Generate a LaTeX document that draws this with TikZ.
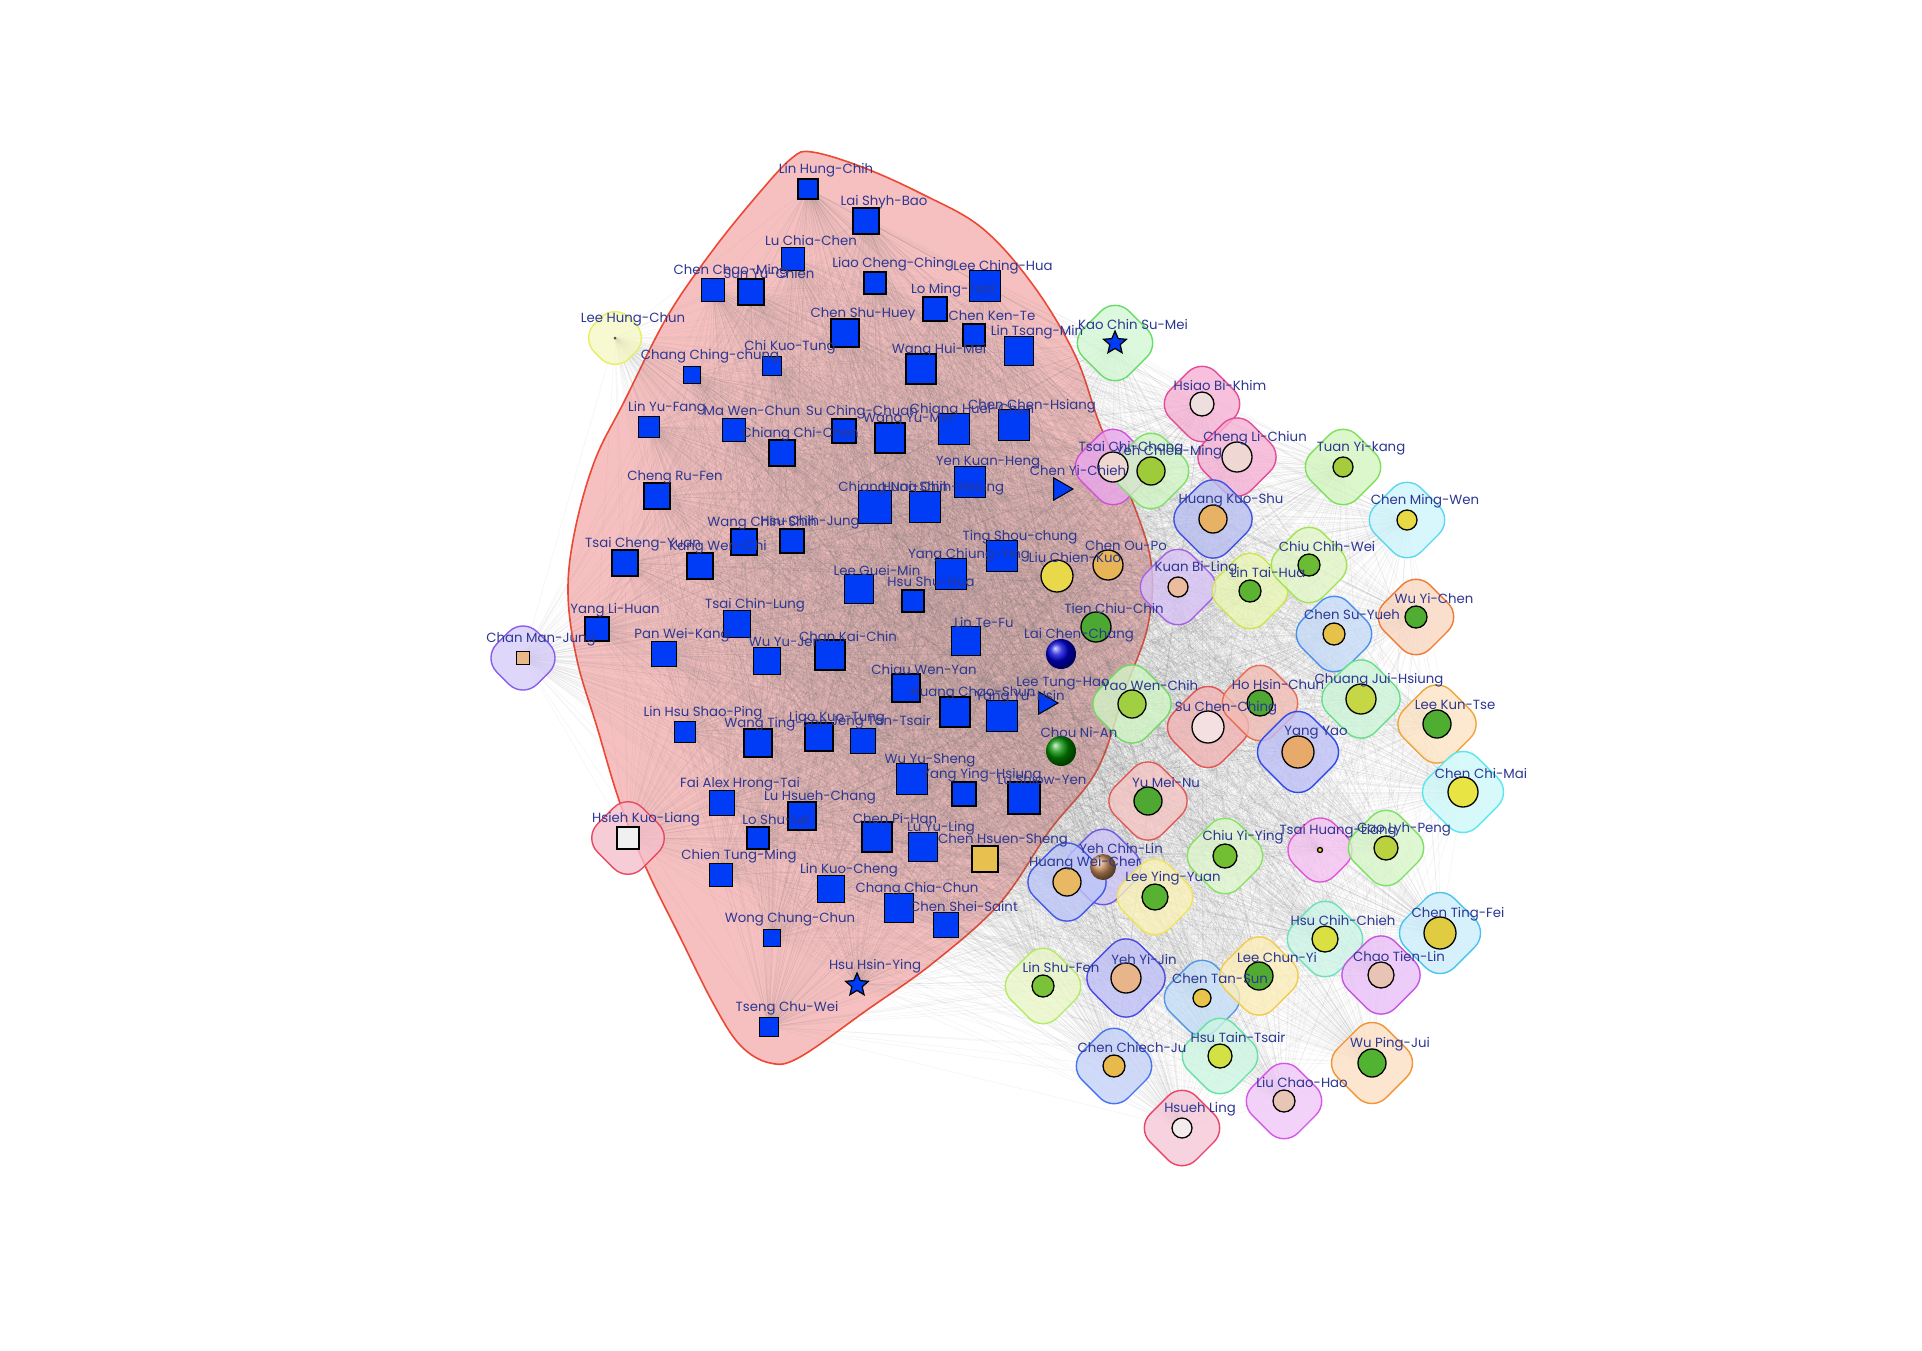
\documentclass[tikz,border=0pt]{standalone}
\usepackage{fontspec}
\setmainfont{Poppins}
\usetikzlibrary{shapes.geometric}
\pgfdeclarelayer{hull}\pgfdeclarelayer{edges}\pgfdeclarelayer{blobs}\pgfdeclarelayer{labels}
\pgfsetlayers{hull,edges,blobs,main,labels}
\definecolor{txt}{RGB}{45,55,145}
\definecolor{sqblue}{RGB}{0,60,245}
\definecolor{hullfill}{RGB}{246,192,192}
\definecolor{hulldraw}{RGB}{236,72,52}
\tikzset{
 sqn/.style={rectangle, draw=black, line width=1.3pt, fill=sqblue, inner sep=0pt},
 cin/.style={circle, draw=black, line width=1.3pt, inner sep=0pt},
 blobn/.style={rectangle, rotate=45, rounded corners=20pt, line width=1.4pt, fill opacity=0.78, inner sep=0pt},
 lbl/.style={text=txt, font=\fontsize{13.3}{13.3}\selectfont, inner sep=0pt},
 edgeline/.style={draw=black!55, line width=0.35pt, opacity=0.11},
 starn/.style={star, star points=5, star point ratio=2.2, draw=black, line width=1.2pt, fill=sqblue, minimum size=24, inner sep=0pt},
 trin/.style={regular polygon, regular polygon sides=3, shape border rotate=-90, fill=sqblue, draw=black, line width=1pt, minimum size=26, inner sep=0pt},
}
\newcommand\LB[2]{\begin{pgfonlayer}{labels}\node[lbl] (n#1-t) at ([shift={(18,-19)}]n#1.center) {#2};\end{pgfonlayer}}
\newcommand\SQ[5]{\node[sqn, minimum size=#4] (n#1) at (#2,#3) {}; \LB{#1}{#5}}
\newcommand\SQC[6]{\definecolor{tmpc}{HTML}{#5}\node[sqn, fill=tmpc, minimum size=#4] (n#1) at (#2,#3) {}; \LB{#1}{#6}}
\newcommand\CI[6]{\definecolor{tmpc}{HTML}{#5}\node[cin, fill=tmpc, minimum size=2*#4] (n#1) at (#2,#3) {}; \LB{#1}{#6}}
\newcommand\BL[4]{\definecolor{bf}{HTML}{#3}\definecolor{bd}{HTML}{#4}\begin{pgfonlayer}{blobs}\node[blobn, fill=bf, draw=bd, minimum size=#2+3] (n#1-b) at (n#1.center) {};\end{pgfonlayer}}
\begin{document}
\begin{tikzpicture}[x=1pt,y=-1pt]
\useasboundingbox (0,0) rectangle (1922,1350);
\begin{pgfonlayer}{hull}
\fill[white] (0,0) rectangle (1922,1350);
\draw[hulldraw, fill=hullfill, line width=1.6pt] plot[smooth cycle, tension=0.6] coordinates {
(812,152) (862,167) (922,194) (982,228) (1033,285) (1075,355) (1100,425) (1130,495) (1151,562) (1148,625) (1125,690) (1097,770) (1050,830) (1000,903) (933,963) (867,1010) (800,1057) (770,1063) (740,1045) (713,1003) (680,937) (647,870) (620,803) (597,727) (577,660) (568,593) (575,530) (595,460) (625,400) (667,317) (713,250) (760,192) (792,158)};
\end{pgfonlayer}
% squares
\SQ{1}{808}{189}{20}{Lin Hung-Chih}
\SQ{2}{866}{221}{26}{Lai Shyh-Bao}
\SQ{3}{793}{259}{23}{Lu Chia-Chen}
\SQ{4}{713}{290}{23}{Chen Chao-Ming}
\SQ{5}{751}{292}{26}{Sun Yu-Chien}
\SQ{6}{875}{283}{22}{Liao Cheng-Ching}
\SQ{7}{985}{286}{31}{Lee Ching-Hua}
\SQ{8}{935}{309}{24}{Lo Ming-Tsai}
\SQ{9}{845}{333}{28}{Chen Shu-Huey}
\SQ{10}{974}{335}{22}{Chen Ken-Te}
\SQ{11}{1019}{351}{29}{Lin Tsang-Min}
\SQ{12}{921}{369}{30}{Wang Hui-Mei}
\SQ{13}{692}{375}{17}{Chang Ching-chung}
\SQ{14}{772}{366}{19}{Chi Kuo-Tung}
\SQ{15}{649}{427}{21}{Lin Yu-Fang}
\SQ{16}{734}{430}{23}{Ma Wen-Chun}
\SQ{17}{844}{431}{24}{Su Ching-Chuan}
\SQ{18}{890}{438}{30}{Wang Yu-Min}
\SQ{19}{954}{429}{31}{Chiang Huei-Chen}
\SQ{20}{1014}{425}{31}{Chen Chen-Hsiang}
\SQ{21}{782}{453}{26}{Chiang Chi-Chen}
\SQ{22}{970}{482}{31}{Yen Kuan-Heng}
\SQ{23}{657}{496}{26}{Cheng Ru-Fen}
\SQ{24}{875}{507}{33}{Chiang Nai-Shin}
\SQ{25}{925}{507}{31}{Hung Chih-Hsiung}
\SQ{26}{744}{542}{26}{Wang Chin-Shih}
\SQ{27}{792}{541}{24}{Hsu Chih-Jung}
\SQ{28}{625}{563}{26}{Tsai Cheng-Yuan}
\SQ{29}{700}{566}{26}{Kang Wen-Chi}
\SQ{30}{1002}{556}{31}{Ting Shou-chung}
\SQ{31}{951}{574}{31}{Yang Chiung-Ying}
\SQ{32}{859}{589}{29}{Lee Guei-Min}
\SQ{33}{913}{601}{22}{Hsu Shu-Hua}
\SQ{34}{737}{624}{27}{Tsai Chin-Lung}
\SQ{35}{597}{629}{24}{Yang Li-Huan}
\SQ{36}{966}{641}{29}{Lin Te-Fu}
\SQ{37}{664}{654}{25}{Pan Wei-Kang}
\SQ{38}{767}{661}{27}{Wu Yu-Jen}
\SQ{39}{830}{655}{30}{Chan Kai-Chin}
\SQ{40}{906}{688}{28}{Chiau Wen-Yan}
\SQ{41}{955}{712}{30}{Huang Chao-Shun}
\SQ{42}{1002}{716}{31}{Yang Yu-Hsin}
\SQ{43}{685}{732}{21}{Lin Hsu Shao-Ping}
\SQ{44}{758}{743}{28}{Wang Ting-Son}
\SQ{45}{819}{737}{28}{Liao Kuo-Tung}
\SQ{46}{863}{741}{25}{Jeng Tan-Tsair}
\SQ{47}{912}{779}{31}{Wu Yu-Sheng}
\SQ{48}{964}{794}{24}{Yang Ying-Hsiung}
\SQ{49}{1024}{798}{32}{Lu Shiow-Yen}
\SQ{50}{722}{803}{25}{Fai Alex Hrong-Tai}
\SQ{51}{802}{816}{28}{Lu Hsueh-Chang}
\SQ{52}{758}{838}{22}{Lo Shu-Lei}
\SQ{53}{877}{837}{30}{Chen Pi-Han}
\SQ{54}{923}{847}{29}{Lu Yu-Ling}
\SQ{55}{721}{875}{23}{Chien Tung-Ming}
\SQ{56}{831}{889}{27}{Lin Kuo-Cheng}
\SQ{57}{899}{908}{29}{Chang Chia-Chun}
\SQ{58}{946}{925}{25}{Chen Shei-Saint}
\SQ{59}{772}{938}{17}{Wong Chung-Chun}
\SQ{60}{769}{1027}{19}{Tseng Chu-Wei}
% special nodes in red cluster
\node[starn] (n61) at (857,985) {}; \LB{61}{Hsu Hsin-Ying}
\node[trin] (n62) at (1060,489) {}; \LB{62}{Chen Yi-Chieh}
\node[trin] (n63) at (1045,703) {}; \LB{63}{Lee Tung-Hao}
\node[circle, ball color=blue!85!black, minimum size=30, inner sep=0pt] (n64) at (1061,654) {}; \LB{64}{Lai Chen-Chang}
\node[circle, ball color=green!55!black, minimum size=30, inner sep=0pt] (n65) at (1061,751) {}; \LB{65}{Chou Ni-An}
\CI{66}{1057}{576}{16}{E8D84A}{Liu Chien-Kuo}
\CI{67}{1108}{565}{15}{E8B458}{Chen Ou-Po}
\CI{68}{1096}{627}{15}{4CA832}{Tien Chiu-Chin}
\SQC{69}{985}{859}{26}{E8C050}{Chen Hsuen-Sheng}
% left outliers
\node[circle, fill=black!70, minimum size=3, inner sep=0pt] (n70) at (615,338) {}; \LB{70}{Lee Hung-Chun}
\BL{70}{46}{F6F8C4}{E6F060}
\SQC{71}{523}{658}{13}{E8B88A}{Chan Man-Jung}
\BL{71}{54}{D6CCF8}{8A5CF0}
\SQC{72}{628}{838}{22}{F0F0F0}{Hsieh Kuo-Liang}
\BL{72}{60}{F4C0CC}{E84A60}
% right cluster
\node[starn] (n73) at (1115,343) {}; \LB{73}{Kao Chin Su-Mei}
\BL{73}{62}{D4F8D4}{66DD66}
\CI{74}{1202}{404}{12}{EFDEDE}{Hsiao Bi-Khim}\BL{74}{62}{F5B0D5}{E44D96}
\CI{75}{1237}{457}{15}{EFD8D4}{Cheng Li-Chiun}\BL{75}{64}{F5B0D5}{E44D96}
\CI{76}{1113}{467}{15}{EFD6D0}{Tsai Chi-Chang}\BL{76}{62}{EAA8EE}{D24FD6}
\CI{77}{1151}{471}{14}{9DCB3A}{Yeh Chien-Ming}\BL{77}{62}{D0F5C4}{7CE06A}
\CI{78}{1343}{467}{10}{A5CC3C}{Tuan Yi-kang}\BL{78}{62}{D4F6C0}{7DE058}
\CI{79}{1213}{519}{14}{E8B265}{Huang Kuo-Shu}\BL{79}{64}{B8BEF2}{4152E0}
\CI{80}{1407}{520}{10}{E8DA44}{Chen Ming-Wen}\BL{80}{62}{CDF5FC}{5AD8F2}
\CI{81}{1178}{587}{10}{EBBD9E}{Kuan Bi-Ling}\BL{81}{62}{D8C2F6}{A463E6}
\CI{82}{1250}{591}{11}{5CB332}{Lin Tai-Hua}\BL{82}{62}{EAF7B4}{CBE64F}
\CI{83}{1309}{565}{11}{6CBB34}{Chiu Chih-Wei}\BL{83}{62}{E0F6C6}{A4E252}
\CI{84}{1416}{617}{11}{4FAE31}{Wu Yi-Chen}\BL{84}{62}{FAD6C0}{EF7B35}
\CI{85}{1334}{634}{11}{E6C24A}{Chen Su-Yueh}\BL{85}{62}{C6DCF8}{4890EE}
\CI{86}{1132}{704}{14}{A1CF42}{Yao Wen-Chih}\BL{86}{64}{D2F6C6}{74DA64}
\CI{87}{1208}{727}{16}{F4E0E0}{Su Chen-Ching}\BL{87}{66}{F2B4B4}{E05454}
\CI{88}{1260}{703}{13}{4EA833}{Ho Hsin-Chun}\BL{88}{62}{F2BCB4}{E86C56}
\CI{89}{1361}{699}{15}{C6D745}{Chuang Jui-Hsiung}\BL{89}{64}{CCF5D8}{66E08A}
\CI{90}{1298}{752}{16}{E8AA6A}{Yang Yao}\BL{90}{66}{BEC0F8}{2E4BE8}
\CI{91}{1437}{724}{14}{4FAE31}{Lee Kun-Tse}\BL{91}{64}{FCE4C4}{F0A43A}
\CI{92}{1463}{792}{15}{E8E444}{Chen Chi-Mai}\BL{92}{66}{CCF8F8}{5AE6EE}
\CI{93}{1148}{801}{14}{4EA832}{Yu Mei-Nu}\BL{93}{64}{F6C4C4}{E05A5A}
\CI{94}{1225}{856}{12}{72BF33}{Chiu Yi-Ying}\BL{94}{62}{DEF6CC}{86E262}
\CI{95}{1320}{850}{2.5}{E8D840}{Tsai Huang-Liang}\BL{95}{54}{F6C2F2}{E058D8}
\CI{96}{1386}{848}{12}{BAD240}{Gao Lyh-Peng}\BL{96}{62}{D8F6C8}{7CE060}
\node[circle, ball color={rgb,255:red,200;green,140;blue,90}, minimum size=26, inner sep=0pt] (n97) at (1103,867) {}; \LB{97}{Yeh Chin-Lin}
\BL{97}{62}{CCC4F8}{6B58E2}
\CI{98}{1067}{882}{14}{E8B862}{Huang Wei-Cher}\BL{98}{64}{BCC6F8}{4458E8}
\CI{99}{1155}{897}{13}{58B232}{Lee Ying-Yuan}\BL{99}{62}{FAF2B8}{F2E25A}
\CI{100}{1325}{939}{13}{DADF42}{Hsu Chih-Chieh}\BL{100}{62}{CDF5E8}{6CE2B8}
\CI{101}{1440}{933}{16}{E0CC40}{Chen Ting-Fei}\BL{101}{66}{CCEEFC}{48C4F2}
\CI{102}{1126}{978}{15}{E8B48A}{Yeh Yi-Jin}\BL{102}{64}{BEBEF8}{4A4AE0}
\CI{103}{1202}{998}{9}{E8C44A}{Chen Tan-Sun}\BL{103}{62}{C4DEF8}{5496E4}
\CI{104}{1259}{976}{14}{52AB31}{Lee Chun-Yi}\BL{104}{64}{FCEDB8}{F2CC4C}
\CI{105}{1381}{975}{13}{E8C4B4}{Chao Tien-Lin}\BL{105}{64}{EABEF8}{C455E4}
\CI{106}{1043}{986}{11}{7AC23A}{Lin Shu-Fen}\BL{106}{62}{EAF8C8}{B4EA66}
\CI{107}{1114}{1066}{11}{E8BA4C}{Chen Chiech-Ju}\BL{107}{62}{C4D0F8}{4474F0}
\CI{108}{1220}{1056}{12}{D2E244}{Hsu Tain-Tsair}\BL{108}{62}{CCF6E2}{66E2A6}
\CI{109}{1372}{1063}{14}{52B232}{Wu Ping-Jui}\BL{109}{66}{FCE0C4}{F29434}
\CI{110}{1284}{1101}{11}{E8C6B6}{Liu Chao-Hao}\BL{110}{62}{F0C6F8}{D456EA}
\CI{111}{1182}{1128}{10}{F2ECEC}{Hsueh Ling}\BL{111}{62}{F6C6D6}{E84468}
% edges
\begin{pgfonlayer}{edges}
\foreach \i in {1,...,110}{\pgfmathtruncatemacro\k{\i+1}\foreach \j in {\k,...,111}{\draw[edgeline] (n\i.center) -- (n\j.center);}}
\end{pgfonlayer}
\end{tikzpicture}
\end{document}
